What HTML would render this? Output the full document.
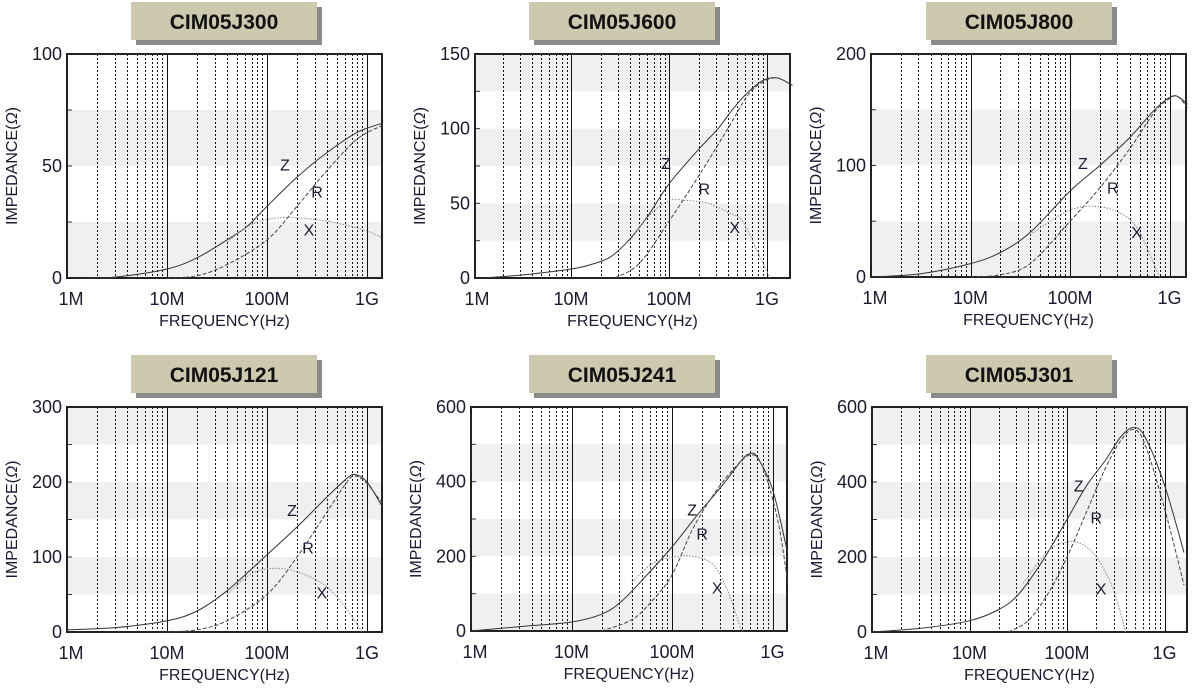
<!DOCTYPE html><html><head><meta charset="utf-8"><style>
body{margin:0;background:#fff;width:1192px;height:689px;overflow:hidden}
svg text{font-family:"Liberation Sans",sans-serif;fill:#1a1a30}
</style></head><body>
<svg id="s" width="1192" height="689" xmlns="http://www.w3.org/2000/svg"></svg>
<script>
const S=document.getElementById('s');let h='';
const charts=[
{t:'CIM05J300',tx:131,L:67,T:54,R:382,B:278,x0:67,d:100,ym:100,n:4,g:[0,2],lab:['0','50','100'],
Z:[[0.2,0],[0.5,0.5],[1,4],[1.3,9],[1.6,17],[1.8,23],[2,32],[2.3,45],[2.6,56],[2.9,65],[3.15,69]],
Rr:[[1,0],[1.3,1],[1.6,6],[2,17],[2.3,32],[2.6,48],[2.9,62],[3.15,68]],
X:[[1.6,16],[1.85,24],[2.15,27],[2.5,26],[2.75,24],[3,21],[3.15,18]],
lz:[2.18,48],lr:[2.5,36],lx:[2.42,19]},
{t:'CIM05J600',tx:529,L:475,T:54,R:790,B:278,x0:473,d:98,ym:150,n:6,g:[1,3,5],lab:['0','50','100','150'],
Z:[[0.1,0],[0.5,2],[1,6],[1.2,9],[1.4,14],[1.6,26],[1.8,43],[2,63],[2.3,86],[2.5,100],[2.65,113],[2.8,124],[2.95,132],[3.1,134],[3.26,129]],
Rr:[[1.45,0],[1.7,10],[2,38],[2.3,68],[2.6,100],[2.8,122],[2.95,131],[3.1,134],[3.26,129]],
X:[[1.6,25],[1.8,42],[2,52],[2.15,52],[2.4,50],[2.6,44],[2.75,38],[2.9,18],[3.03,0]],
lz:[1.97,73],lr:[2.36,56],lx:[2.67,30]},
{t:'CIM05J800',tx:926,L:871,T:54,R:1186,B:277,x0:871,d:99.5,ym:200,n:4,g:[0,2],lab:['0','100','200'],
Z:[[0,0],[0.5,3],[1,12],[1.3,22],[1.6,40],[2,77],[2.3,100],[2.6,125],[2.85,150],[3,161],[3.08,162],[3.18,155]],
Rr:[[1,0],[1.3,2],[1.6,12],[2,50],[2.3,80],[2.6,115],[2.85,148],[3,160],[3.08,162],[3.18,152]],
X:[[1.6,38],[2,60],[2.3,63],[2.55,55],[2.7,40],[2.85,10],[2.9,0]],
lz:[2.13,97],lr:[2.43,75],lx:[2.67,35]},
{t:'CIM05J121',tx:131,L:67,T:407,R:382,B:632,x0:67,d:100,ym:300,n:6,g:[1,3,5],lab:['0','100','200','300'],
Z:[[0,3],[0.5,6],[1,15],[1.3,28],[1.6,55],[2,103],[2.3,140],[2.6,180],[2.8,205],[2.88,210],[3,200],[3.15,168]],
Rr:[[1,0],[1.3,3],[1.6,15],[2,50],[2.3,100],[2.6,160],[2.8,200],[2.88,208],[3,198],[3.15,172]],
X:[[1.6,50],[1.85,78],[2.1,85],[2.35,78],[2.6,60],[2.8,30],[2.95,0]],
lz:[2.25,155],lr:[2.41,105],lx:[2.55,45]},
{t:'CIM05J241',tx:529,L:471,T:407,R:787,B:631,x0:471,d:100.5,ym:600,n:6,g:[0,2,4],lab:['0','200','400','600'],
Z:[[0,0],[0.5,12],[1,24],[1.3,45],[1.5,80],[1.75,150],[2,225],[2.25,310],[2.5,390],[2.7,460],[2.78,475],[2.85,465],[3,380],[3.15,210]],
Rr:[[1.3,0],[1.6,30],[1.8,80],[2,150],[2.2,270],[2.4,360],[2.6,430],[2.78,472],[2.9,440],[3.05,300],[3.15,135]],
X:[[1.6,130],[1.8,180],[2,197],[2.2,200],[2.4,180],[2.55,110],[2.68,10],[2.7,0]],
lz:[2.2,310],lr:[2.3,245],lx:[2.45,100]},
{t:'CIM05J301',tx:926,L:872,T:407,R:1187,B:632,x0:872,d:97.5,ym:600,n:6,g:[1,3,5],lab:['0','200','400','600'],
Z:[[0,0],[0.5,10],[1,30],[1.3,60],[1.5,100],[1.75,190],[2,300],[2.2,390],[2.4,460],[2.55,520],[2.68,545],[2.8,520],[3,392],[3.2,212]],
Rr:[[1.4,0],[1.6,30],[1.8,100],[2,200],[2.2,320],[2.4,440],[2.55,510],[2.68,540],[2.8,500],[3,330],[3.2,125]],
X:[[1.55,130],[1.8,215],[2,240],[2.15,235],[2.3,200],[2.45,130],[2.55,50],[2.6,0]],
lz:[2.12,375],lr:[2.3,290],lx:[2.35,100]}
];
function spline(p){let s='M'+p[0][0].toFixed(1)+','+p[0][1].toFixed(1);
for(let i=0;i<p.length-1;i++){const p0=p[i-1]||p[i],p1=p[i],p2=p[i+1],p3=p[i+2]||p2;
const c1=[p1[0]+(p2[0]-p0[0])/6,p1[1]+(p2[1]-p0[1])/6],c2=[p2[0]-(p3[0]-p1[0])/6,p2[1]-(p3[1]-p1[1])/6];
s+=' C'+c1.map(v=>v.toFixed(1))+' '+c2.map(v=>v.toFixed(1))+' '+p2.map(v=>v.toFixed(1));}return s;}
for(const c of charts){
const W=c.R-c.L,H=c.B-c.T,bh=H/c.n;
const px=x=>Math.min(c.R,Math.max(c.L,c.x0+x*c.d)), py=v=>c.B-v/c.ym*H;
h+=`<rect x="${c.tx+5}" y="${c.T-47}" width="186" height="38" fill="#8a8a8a"/>`;
h+=`<rect x="${c.tx}" y="${c.T-52}" width="186" height="38" fill="#cdc9ae"/>`;
h+=`<text x="${c.tx+93}" y="${c.T-25}" font-size="21" font-weight="bold" text-anchor="middle" style="fill:#111">${c.t}</text>`;
for(let i=0;i<c.n;i++){if(c.g.includes(i))h+=`<rect x="${c.L}" y="${c.B-(i+1)*bh}" width="${W}" height="${bh}" fill="#f0f0f0"/>`;
if(i>0)h+=`<line x1="${c.L}" x2="${c.L+5}" y1="${c.B-i*bh}" y2="${c.B-i*bh}" stroke="#333"/>`;}
for(let dd=0;dd<4;dd++)for(let k=1;k<=9;k++){const x=c.x0+(dd+Math.log10(k))*c.d;if(x>=c.R-1||x<=c.L+1)continue;
const xr=Math.round(x)+0.5;
h+=k==1?`<line x1="${xr}" x2="${xr}" y1="${c.T}" y2="${c.B}" stroke="#111" stroke-width="1"/>`:`<line x1="${xr}" x2="${xr}" y1="${c.T}" y2="${c.B}" stroke="#111" stroke-width="1" stroke-dasharray="2,2"/>`;}
h+=`<rect x="${c.L}" y="${c.T}" width="${W}" height="${H}" fill="none" stroke="#222" stroke-width="2"/>`;
const m=a=>a.map(p=>[c.x0+p[0]*c.d,py(p[1])]);
h+=`<path d="${spline(m(c.Z))}" fill="none" stroke="#333" stroke-width="1"/>`;
h+=`<path d="${spline(m(c.Rr))}" fill="none" stroke="#444" stroke-width="1" stroke-dasharray="4,2"/>`;
h+=`<path d="${spline(m(c.X))}" fill="none" stroke="#888" stroke-width="1" stroke-dasharray="1.5,1.5"/>`;
h+=`<text x="${px(c.lz[0])}" y="${py(c.lz[1])}" font-size="16" text-anchor="middle">Z</text>`;
h+=`<text x="${px(c.lr[0])}" y="${py(c.lr[1])}" font-size="16" text-anchor="middle">R</text>`;
h+=`<text x="${px(c.lx[0])}" y="${py(c.lx[1])}" font-size="16" text-anchor="middle">X</text>`;
c.lab.forEach((l,i)=>{const y=c.B-i*(H/(c.lab.length-1));h+=`<text x="${c.L-5}" y="${y+6}" font-size="18" text-anchor="end">${l}</text>`;});
['1M','10M','100M','1G'].forEach((l,i)=>h+=`<text x="${c.x0+i*c.d+(i==0?4:0)}" y="${c.B+27}" font-size="18" text-anchor="middle">${l}</text>`);
h+=`<text x="${(c.L+c.R)/2}" y="${c.B+48}" font-size="16" text-anchor="middle">FREQUENCY(Hz)</text>`;
h+=`<text transform="translate(${c.L-50},${(c.T+c.B)/2}) rotate(-90)" font-size="16" text-anchor="middle">IMPEDANCE(<tspan font-style="italic">Ω</tspan>)</text>`;
}
S.innerHTML=h;
</script></body></html>
